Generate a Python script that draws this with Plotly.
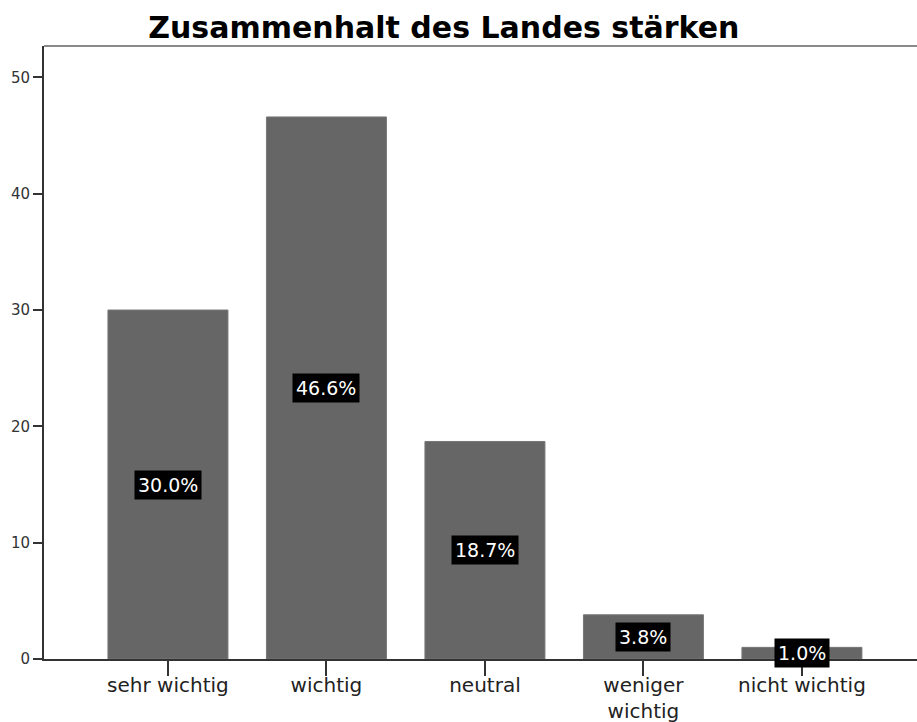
import plotly.graph_objects as go

categories = ["sehr wichtig", "wichtig", "neutral", "weniger<br>wichtig", "nicht wichtig"]
values = [30.0, 46.6, 18.7, 3.8, 1.0]
labels = ["30.0%", "46.6%", "18.7%", "3.8%", "1.0%"]
y_ticks = [0, 10, 20, 30, 40, 50]

FONT = "DejaVu Sans"

fig = go.Figure()
fig.add_trace(go.Bar(
    x=list(range(len(categories))),
    y=values,
    width=0.757,
    marker=dict(color="#666666", line=dict(color="#777777", width=1)),
    hoverinfo="skip",
))

for i, (v, lab) in enumerate(zip(values, labels)):
    fig.add_annotation(
        x=i, y=v / 2, text=lab, showarrow=False,
        font=dict(family=FONT, size=19, color="white"),
        bgcolor="black", borderpad=3,
    )

# top border of plot frame
fig.add_shape(type="line", xref="paper", yref="paper", x0=0, x1=1, y0=1, y1=1,
              line=dict(color="#8a8a8a", width=2))

fig.update_layout(
    width=917, height=722,
    margin=dict(l=44, r=0, t=46, b=63),
    paper_bgcolor="white", plot_bgcolor="white",
    showlegend=False,
    title=dict(text="<b>Zusammenhalt des Landes stärken</b>",
               font=dict(family=FONT, size=30, color="black"),
               x=0.484, xanchor="center", y=0.962, yanchor="middle"),
    xaxis=dict(
        range=[-0.782, 4.726], automargin=False,
        tickmode="array", tickvals=list(range(len(categories))), ticktext=categories,
        ticks="outside", ticklen=15, tickwidth=2, tickcolor="#333333",
        ticklabelstandoff=-8,
        showline=True, linecolor="#333333", linewidth=2,
        showgrid=False, zeroline=False,
        tickfont=dict(family=FONT, size=20, color="#222222"),
    ),
    yaxis=dict(
        range=[0, 52.7], automargin=False,
        tickmode="array", tickvals=y_ticks,
        ticks="outside", ticklen=9, tickwidth=2, tickcolor="#333333",
        showline=True, linecolor="#333333", linewidth=2,
        showgrid=False, zeroline=False,
        tickfont=dict(family=FONT, size=15, color="#333333"),
    ),
)

fig.write_html("out.html", config={"displayModeBar": False},
               post_script="document.body.style.margin='0';document.body.style.overflow='hidden';")
